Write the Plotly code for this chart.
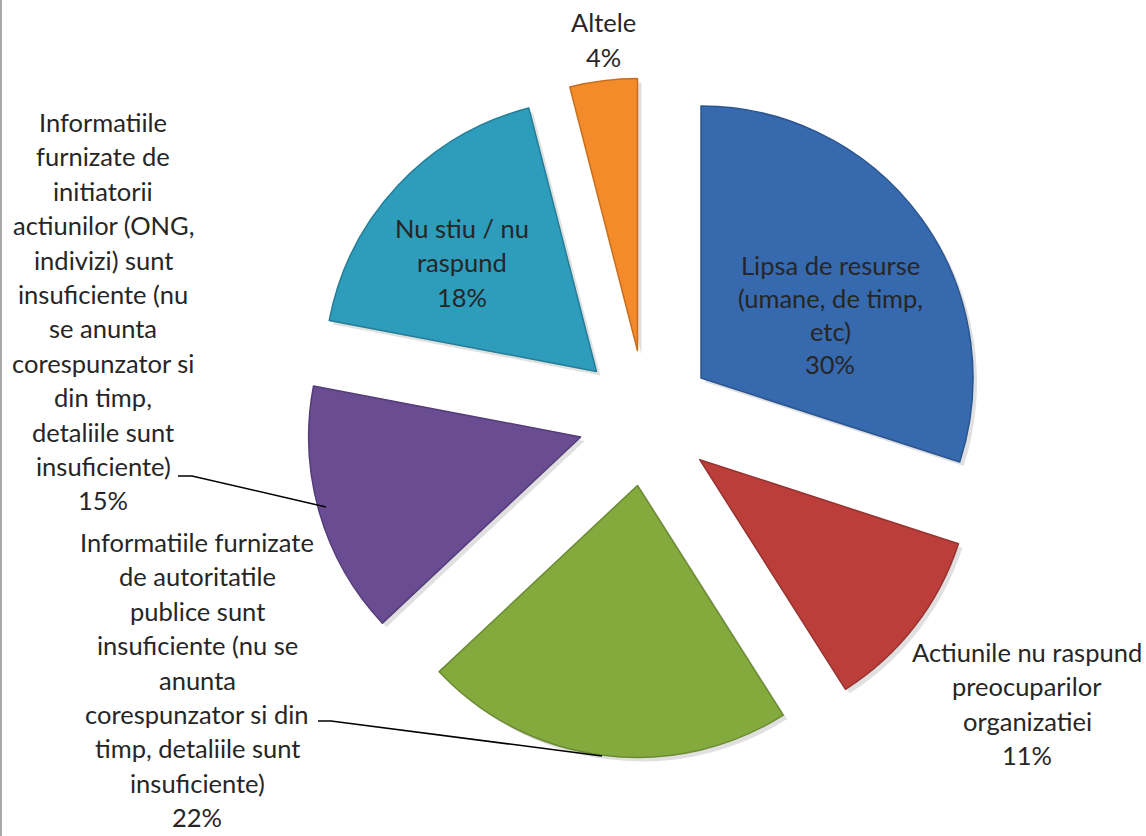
import plotly.graph_objects as go

W, H = 1146, 836

categories = [
    "Lipsa de resurse (umane, de timp, etc)",
    "Actiunile nu raspund preocuparilor organizatiei",
    "Informatiile furnizate de autoritatile publice sunt insuficiente (nu se anunta corespunzator si din timp, detaliile sunt insuficiente)",
    "Informatiile furnizate de initiatorii actiunilor (ONG, indivizi) sunt insuficiente (nu se anunta corespunzator si din timp, detaliile sunt insuficiente)",
    "Nu stiu / nu raspund",
    "Altele",
]
values = [30, 11, 22, 15, 18, 4]
label_lines = [
    ["Lipsa de resurse", "(umane, de timp,", "etc)"],
    ["Actiunile nu raspund", "preocuparilor", "organizatiei"],
    ["Informatiile furnizate", "de autoritatile", "publice sunt", "insuficiente (nu se",
     "anunta", "corespunzator si din", "timp, detaliile sunt", "insuficiente)"],
    ["Informatiile", "furnizate de", "initiatorii", "actiunilor (ONG,", "indivizi) sunt",
     "insuficiente (nu", "se anunta", "corespunzator si", "din timp,", "detaliile sunt",
     "insuficiente)"],
    ["Nu stiu / nu", "raspund"],
    ["Altele"],
]
colors = ["#3669ad", "#bb3e3b", "#84aa3e", "#6a4c93", "#2e9cbb", "#f38b2b"]
edge_colors = ["#2b558e", "#963230", "#6b8a32", "#553c78", "#237d97", "#c86f1f"]

# label layout (pixel centre x, first-line y, line step)
label_pos = [(830, 265, 33.0), (1027, 652, 34.4), (197, 542, 34.4),
             (103, 122, 34.4), (462, 228, 34.4), (603, 22, 35.0)]

# pie geometry: centre (646, 418) px, radius 272 px, pull 0.25
cx, cy, R, pull = 646, 418, 272, 0.25
half = R * (1 + pull)

fig = go.Figure()
# soft shadow
sh = 4
fig.add_trace(go.Pie(
    labels=categories, values=values, sort=False, direction="clockwise", rotation=0,
    pull=[pull] * len(values), textinfo="none", hoverinfo="skip", showlegend=False,
    marker=dict(colors=["rgba(0,0,0,0.12)"] * len(values), line=dict(width=0)),
    domain=dict(x=[(cx + sh - half) / W, (cx + sh + half) / W],
                y=[(H - cy - sh - half) / H, (H - cy - sh + half) / H]),
))
fig.add_trace(go.Pie(
    labels=categories, values=values, sort=False, direction="clockwise", rotation=0,
    pull=[pull] * len(values), textinfo="none", showlegend=False,
    marker=dict(colors=colors, line=dict(color=edge_colors, width=1.5)),
    domain=dict(x=[(cx - half) / W, (cx + half) / W],
                y=[(H - cy - half) / H, (H - cy + half) / H]),
))

annotations = []
for lines, v, (px, py, step) in zip(label_lines, values, label_pos):
    all_lines = lines + [f"{v}%"]
    for i, t in enumerate(all_lines):
        annotations.append(dict(
            x=px / W, y=1 - (py + i * step) / H, xref="paper", yref="paper",
            text=t, showarrow=False, xanchor="center", yanchor="middle",
            font=dict(family="Lato", size=25.5, color="#262626"),
        ))

def ppath(pts):
    return "M " + " L ".join(f"{x / W:.5f},{1 - y / H:.5f}" for x, y in pts)

shapes = [
    dict(type="path", xref="paper", yref="paper",
         path=ppath([(178, 476), (192, 476), (326, 507)]),
         line=dict(color="#000000", width=1.5)),
    dict(type="path", xref="paper", yref="paper",
         path=ppath([(318, 721), (331, 721), (602, 756)]),
         line=dict(color="#000000", width=1.5)),
    dict(type="line", xref="paper", yref="paper", x0=0.0008, x1=0.0008, y0=0, y1=1,
         line=dict(color="#a6a6a6", width=2)),
]

fig.update_layout(
    width=W, height=H, margin=dict(l=0, r=0, t=0, b=0),
    paper_bgcolor="white", plot_bgcolor="white",
    annotations=annotations, shapes=shapes, showlegend=False,
)
fig.write_html(
    "out.html",
    config={"displayModeBar": False},
    post_script="document.body.style.margin='0px';document.body.style.overflow='hidden';",
)
